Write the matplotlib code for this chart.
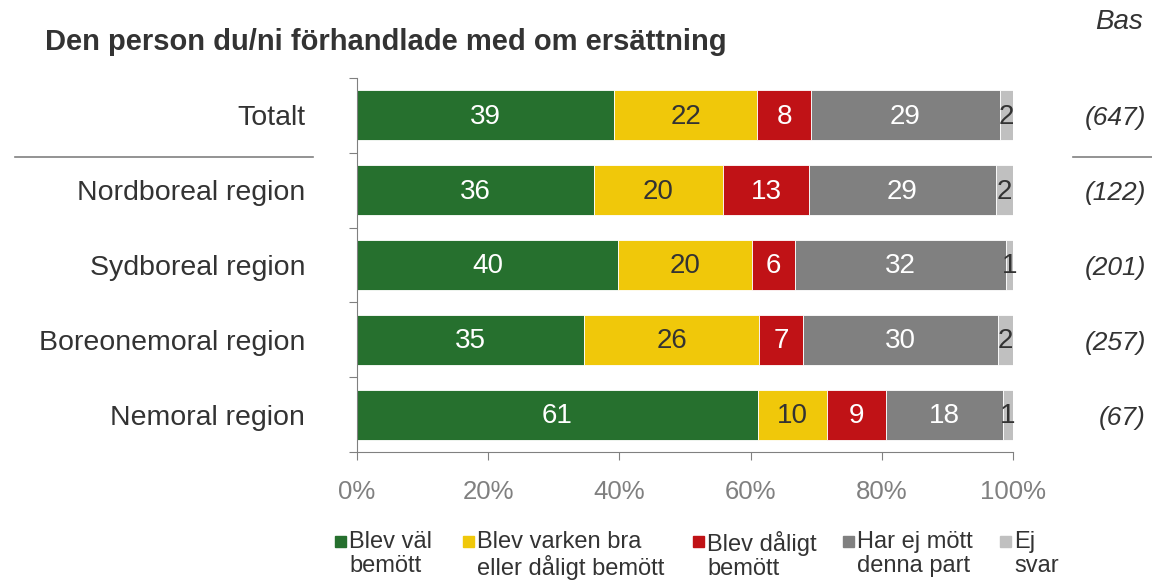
import matplotlib
matplotlib.use("Agg")
import matplotlib.pyplot as plt
from matplotlib.patches import Rectangle
from matplotlib.lines import Line2D

plt.rcParams['font.family'] = ['Liberation Sans', 'DejaVu Sans']

categories = ["Totalt", "Nordboreal region", "Sydboreal region",
              "Boreonemoral region", "Nemoral region"]
bases = ["(647)", "(122)", "(201)", "(257)", "(67)"]
series_names = ["Blev väl\nbemött", "Blev varken bra\neller dåligt bemött",
                "Blev dåligt\nbemött", "Har ej mött\ndenna part", "Ej\nsvar"]
# segment widths (percent)
val_good = [39.2, 36.1, 39.8, 34.6, 61.1]
val_neutral = [21.8, 19.7, 20.4, 26.7, 10.5]
val_bad = [8.2, 13.1, 6.6, 6.7, 9.0]
val_notmet = [28.8, 28.5, 32.1, 29.7, 17.9]
val_noans = [2.0, 2.6, 1.1, 2.3, 1.5]
# printed labels
lab_good = [39, 36, 40, 35, 61]
lab_neutral = [22, 20, 20, 26, 10]
lab_bad = [8, 13, 6, 7, 9]
lab_notmet = [29, 29, 32, 30, 18]
lab_noans = [2, 2, 1, 2, 1]
xticklabels = ["0%", "20%", "40%", "60%", "80%", "100%"]

colors = ["#26702E", "#F0C80A", "#C01216", "#808080", "#C0C0C0"]
txtcolors = ["white", "#333333", "white", "white", "#333333"]
values = [val_good, val_neutral, val_bad, val_notmet, val_noans]
labels = [lab_good, lab_neutral, lab_bad, lab_notmet, lab_noans]

fig = plt.figure(figsize=(11.52, 5.80), dpi=100)
ax = fig.add_axes([357/1152, 1-452/580, (1013-357)/1152, (452-78)/580])

y = list(range(len(categories)))
left = [0.0]*len(categories)
for vals, labs, col, tc, name in zip(values, labels, colors, txtcolors, series_names):
    ax.barh(y, vals, left=left, height=0.67, color=col,
            edgecolor="white", linewidth=0.6, label=name)
    for i, (v, l, b) in enumerate(zip(vals, labs, left)):
        ax.text(b + v/2, i + 0.02, str(l), ha="center", va="center",
                color=tc, fontsize=20)
    left = [a + v for a, v in zip(left, vals)]

ax.set_xlim(0, 100)
ax.set_ylim(4.5, -0.5)
ax.set_xticks([0, 20, 40, 60, 80, 100])
ax.set_xticklabels(xticklabels, fontsize=18.5, color="#808080")
ax.set_yticks([-0.5, 0.5, 1.5, 2.5, 3.5, 4.5])
ax.set_yticklabels([])
ax.tick_params(axis="x", direction="out", length=6, color="#808080", pad=14)
ax.tick_params(axis="y", direction="out", length=6, color="#808080")
for s in ["top", "right"]:
    ax.spines[s].set_visible(False)
for s in ["left", "bottom"]:
    ax.spines[s].set_color("#808080")

for i, c in enumerate(categories):
    fig.text(305/1152, 1 - (118 + 75*i)/580, c, ha="right", va="center",
             fontsize=20.5, color="#333333")
    fig.text(1146/1152, 1 - (118 + 75*i)/580, bases[i], ha="right", va="center",
             fontsize=19, color="#333333", style="italic")

fig.text(45/1152, 1 - 42/580, "Den person du/ni förhandlade med om ersättning",
         ha="left", va="center", fontsize=21, fontweight="bold", color="#333333")
fig.text(1143/1152, 1 - 22/580, "Bas", ha="right", va="center",
         fontsize=20, style="italic", color="#333333")

fig.add_artist(Line2D([15/1152, 313/1152], [1-157/580, 1-157/580],
                      color="#808080", linewidth=1.2))
fig.add_artist(Line2D([1073/1152, 1152/1152], [1-157/580, 1-157/580],
                      color="#808080", linewidth=1.2))

# legend
leg_x = [335, 463, 693, 843, 1000]
for xp, col, name in zip(leg_x, colors, series_names):
    fig.add_artist(Rectangle((xp/1152, 1-547/580), 11/1152, 11/580,
                             color=col, transform=fig.transFigure))
    fig.text((xp+14)/1152, 1-531/580, name, ha="left", va="top",
             fontsize=17, color="#333333", linespacing=1.12)

fig.savefig("out.png", dpi=100)
